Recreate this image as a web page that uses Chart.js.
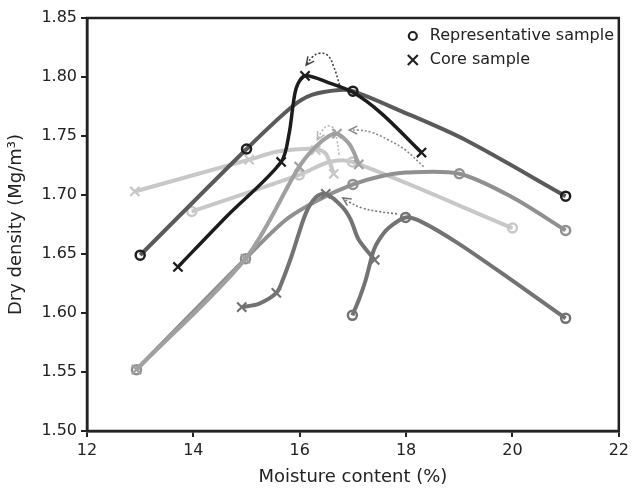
<!DOCTYPE html>
<html lang="en">
<head>
<meta charset="UTF-8">
<title>Dry density vs moisture content</title>
<script src="https://cdn.jsdelivr.net/npm/chart.js"></script>
<style>
  html, body { margin: 0; padding: 0; background: #fff; }
  .chart-container { width: 633px; height: 490px; position: relative; }
</style>
</head>
<body>
<div class="chart-container"><canvas id="myChart"></canvas></div>
<script>
// --- data: [moisture %, dry density Mg/m3] ---
// representative samples (circles)
const repA_marks = [[13.0,1.649],[15.0,1.739],[17.0,1.788],[21.0,1.699]];
const repA_curve = [[13.0,1.649],[15.0,1.739],[15.86,1.775],[16.24,1.785],[16.74,1.789],[17.0,1.788],[17.86,1.772],[19.1,1.747],[21.0,1.699]];
const repB_marks = [[12.93,1.552],[14.98,1.646],[17.0,1.709],[19.0,1.718],[21.0,1.670]];
const repB_curve = [[12.93,1.552],[14.98,1.646],[15.74,1.679],[16.36,1.696],[17.0,1.709],[17.49,1.7155],[17.99,1.719],[19.0,1.718],[19.98,1.6985],[21.0,1.670]];
const repC_marks = [[13.97,1.686],[15.99,1.717],[16.99,1.728],[20.0,1.672]];
const repC_curve = [[13.97,1.686],[15.99,1.717],[16.55,1.728],[16.99,1.728],[20.0,1.672]];
const repD_marks = [[16.99,1.598],[17.99,1.681],[21.0,1.5955]];
const repD_curve = [[16.99,1.598],[17.11,1.611],[17.24,1.628],[17.39,1.653],[17.49,1.662],[17.67,1.672],[17.99,1.681],[18.3,1.677],[18.98,1.659],[19.98,1.628],[21.0,1.5955]];

// core samples (crosses)
const coreE_marks = [[13.71,1.639],[15.65,1.728],[16.1,1.801],[18.29,1.736]];
const coreE_curve = [[13.71,1.639],[14.62,1.6816],[15.65,1.728],[15.8,1.752],[15.93,1.790],[16.1,1.801],[16.55,1.795],[17.0,1.787],[17.54,1.769],[18.29,1.736]];
const coreF_marks = [[12.9,1.703],[15.05,1.730],[16.3,1.738],[16.64,1.718]];
const coreF_curve = [[12.9,1.703],[15.05,1.730],[15.61,1.737],[16.3,1.739],[16.49,1.735],[16.64,1.718]];
const coreG_marks = [[12.93,1.552],[14.98,1.646],[15.99,1.724],[16.7,1.752],[17.11,1.726]];
const coreG_curve = [[12.93,1.552],[14.98,1.646],[15.99,1.724],[16.3,1.741],[16.55,1.750],[16.7,1.752],[16.92,1.744],[17.02,1.736],[17.11,1.726]];
const coreH_marks = [[14.91,1.605],[15.56,1.617],[16.49,1.701],[17.41,1.645]];
const coreH_curve = [[14.91,1.605],[15.24,1.608],[15.56,1.617],[15.68,1.628],[15.86,1.650],[16.11,1.684],[16.3,1.698],[16.49,1.701],[16.8,1.690],[16.96,1.679],[17.11,1.662],[17.41,1.645]];

// dotted arrows (start -> tip)
const arrow1 = [[16.75,1.7932],[16.64,1.8087],[16.52,1.8186],[16.36,1.820],[16.24,1.817],[16.12,1.810]];
const arrow2 = [[16.74,1.734],[16.70,1.7466],[16.64,1.7565],[16.52,1.7585],[16.43,1.755],[16.33,1.7466]];
const arrow3 = [[18.33,1.724],[17.99,1.738],[17.67,1.7466],[17.36,1.753],[17.11,1.755],[16.93,1.755]];
const arrow4 = [[17.83,1.684],[17.49,1.686],[17.17,1.689],[16.92,1.6943],[16.81,1.6975]];

const xTicks = [12, 14, 16, 18, 20, 22];
const legendLabels = ['Representative sample', 'Core sample'];

const FONT = "'DejaVu Sans', Verdana, sans-serif";
const toXY = arr => arr.map(([x, y]) => ({ x, y }));

function series(curve, marks, lineColor, markColor, style, width) {
  return [
    {
      data: toXY(marks), showLine: false,
      pointStyle: style,
      pointRadius: style === 'circle' ? 4.5 : 6.5,
      pointBorderWidth: style === 'circle' ? 2.5 : 2.2,
      pointBorderColor: markColor,
      pointBackgroundColor: 'rgba(0,0,0,0)'
    },
    {
      data: toXY(curve), showLine: true,
      borderColor: lineColor, borderWidth: width,
      tension: 0.3,
      pointRadius: 0
    }
  ];
}

function arrow(points, color) {
  return {
    data: toXY(points), showLine: true, arrow: true,
    borderColor: color, borderWidth: 1.6, borderDash: [2, 2],
    tension: 0.4, pointRadius: 0
  };
}

const datasets = [
  ...series(coreE_curve, coreE_marks, '#1c1c1c', '#1c1c1c', 'crossRot', 3.5),
  ...series(repA_curve, repA_marks, '#5a5a5a', '#1e1e1e', 'circle', 4),
  ...series(coreH_curve, coreH_marks, '#737373', '#737373', 'crossRot', 4),
  ...series(repD_curve, repD_marks, '#737373', '#737373', 'circle', 4),
  ...series(coreG_curve, coreG_marks, '#a0a0a0', '#a0a0a0', 'crossRot', 4),
  ...series(repB_curve, repB_marks, '#909090', '#909090', 'circle', 4),
  ...series(coreF_curve, coreF_marks, '#c8c8c8', '#c8c8c8', 'crossRot', 4),
  ...series(repC_curve, repC_marks, '#c8c8c8', '#c8c8c8', 'circle', 4),
  arrow(arrow1, '#444'),
  arrow(arrow2, '#b8b8b8'),
  arrow(arrow3, '#888'),
  arrow(arrow4, '#777')
];

// frame + legend + arrowheads
const extras = {
  id: 'extras',
  afterDatasetsDraw(chart) {
    const ctx = chart.ctx;
    chart.data.datasets.forEach((ds, i) => {
      if (!ds.arrow) return;
      const pts = chart.getDatasetMeta(i).data;
      const tip = pts[pts.length - 1];
      const prev = pts[pts.length - 2];
      let bx = tip.cp1x !== undefined ? tip.cp1x : prev.x;
      let by = tip.cp1y !== undefined ? tip.cp1y : prev.y;
      if (Math.hypot(tip.x - bx, tip.y - by) < 1) { bx = prev.x; by = prev.y; }
      const a = Math.atan2(tip.y - by, tip.x - bx);
      const L = 9;
      ctx.save();
      ctx.strokeStyle = ds.borderColor;
      ctx.lineWidth = 1.5;
      ctx.beginPath();
      ctx.moveTo(tip.x - L * Math.cos(a - 0.45), tip.y - L * Math.sin(a - 0.45));
      ctx.lineTo(tip.x, tip.y);
      ctx.lineTo(tip.x - L * Math.cos(a + 0.45), tip.y - L * Math.sin(a + 0.45));
      ctx.stroke();
      ctx.restore();
    });
  },
  afterDraw(chart) {
    const { ctx, chartArea: ca } = chart;
    ctx.save();
    ctx.strokeStyle = '#222';
    ctx.lineWidth = 2.5;
    ctx.strokeRect(ca.left, ca.top, ca.right - ca.left, ca.bottom - ca.top);

    const lx = ca.right - 206, ly = ca.top + 18;
    ctx.strokeStyle = '#222';
    ctx.lineWidth = 2.2;
    ctx.beginPath();
    ctx.arc(lx, ly, 4, 0, Math.PI * 2);
    ctx.stroke();
    const cy = ly + 24, s = 5;
    ctx.beginPath();
    ctx.moveTo(lx - s, cy - s); ctx.lineTo(lx + s, cy + s);
    ctx.moveTo(lx + s, cy - s); ctx.lineTo(lx - s, cy + s);
    ctx.stroke();
    ctx.fillStyle = '#222';
    ctx.font = '16px ' + FONT;
    ctx.textBaseline = 'middle';
    ctx.fillText(legendLabels[0], lx + 17, ly);
    ctx.fillText(legendLabels[1], lx + 17, cy);
    ctx.restore();
  }
};

new Chart(document.getElementById('myChart'), {
  type: 'scatter',
  data: { datasets },
  options: {
    responsive: true,
    maintainAspectRatio: false,
    animation: false,
    layout: { padding: { top: 18, right: 11, left: 0, bottom: 0 } },
    plugins: { legend: { display: false }, tooltip: { enabled: false } },
    scales: {
      x: {
        type: 'linear', min: 12, max: 22,
        afterFit: s => { s.height = 59; },
        afterBuildTicks: s => { s.ticks = xTicks.map(v => ({ value: v })); },
        ticks: { color: '#222', font: { family: FONT, size: 16 }, padding: 4 },
        grid: { drawOnChartArea: false, drawTicks: true, tickLength: 6, color: '#222', lineWidth: 2 },
        border: { display: true, color: '#222', width: 2.5 },
        title: { display: true, text: 'Moisture content (%)', color: '#222', font: { family: FONT, size: 18 }, padding: { top: 2, bottom: 2 } }
      },
      y: {
        type: 'linear', min: 1.5, max: 1.85,
        afterFit: s => { s.width = 87; },
        ticks: { stepSize: 0.05, color: '#222', font: { family: FONT, size: 16 }, padding: 4,
                 callback: v => v.toFixed(2) },
        grid: { drawOnChartArea: false, drawTicks: true, tickLength: 6, color: '#222', lineWidth: 2 },
        border: { display: true, color: '#222', width: 2.5 },
        title: { display: true, text: 'Dry density (Mg/m³)', color: '#222', font: { family: FONT, size: 18 }, padding: { top: 6, bottom: 2 } }
      }
    }
  },
  plugins: [extras]
});
</script>
</body>
</html>
